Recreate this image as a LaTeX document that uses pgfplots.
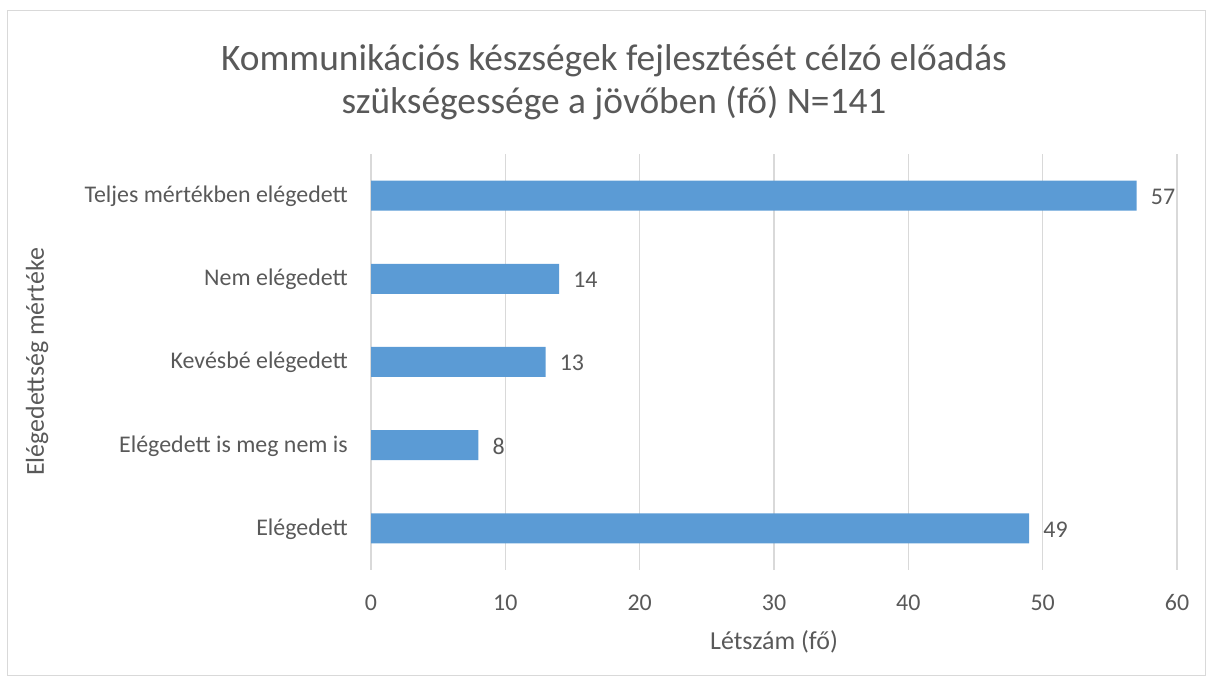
\documentclass[border=0pt]{standalone}
\usepackage{pgfplots}
\pgfplotsset{compat=1.18}
\usepackage{fontspec}
\setmainfont{Carlito}
\definecolor{barblue}{HTML}{5B9BD5}
\definecolor{txt}{HTML}{595959}
\definecolor{gridc}{HTML}{D9D9D9}
\begin{document}
\begin{tikzpicture}[x=1bp,y=1bp]
\path[use as bounding box] (0,0) rectangle (1213,682);
\draw[gridc, line width=1bp] (7,6) rectangle (1205,671);
\begin{axis}[
  at={(371bp,112bp)}, anchor=south west,
  scale only axis, width=806bp, height=416bp,
  xbar, bar width=30bp,
  xmin=0, xmax=60, ymin=-0.5, ymax=4.5,
  xtick={0,10,...,60}, ytick={0,1,2,3,4},
  yticklabels={Elégedett, Elégedett is meg nem is, Kevésbé elégedett, Nem elégedett, Teljes mértékben elégedett},
  axis line style={draw=none},
  major tick length=0pt,
  xmajorgrids, ymajorgrids=false,
  grid style={gridc, line width=1.5bp},
  /pgf/number format/assume math mode=true,
  tick label style={font=\fontsize{24}{28}\selectfont, text=txt},
  xticklabel style={anchor=base, yshift=-41bp, inner sep=0pt},
  yticklabel style={anchor=base east, xshift=-23bp, yshift=-7bp, inner sep=0pt},
  nodes near coords,
  nodes near coords style={anchor=base west, inner sep=0pt, xshift=14bp, yshift=-9bp, font=\fontsize{24}{28}\selectfont, text=txt},
  xlabel={Létszám (fő)}, ylabel={Elégedettség mértéke},
  label style={font=\fontsize{26}{30}\selectfont, text=txt},
  xlabel style={at={(axis description cs:0.5,-0.190)}, anchor=base, inner sep=0pt},
  ylabel style={at={(axis description cs:-0.4144,0.5)}, anchor=center, inner sep=0pt},
]
\addplot[fill=barblue, draw=none] coordinates {(49,0) (8,1) (13,2) (14,3) (57,4)};
\end{axis}
\node[anchor=base, align=center, font=\fontsize{37.5}{44}\selectfont, text=txt, inner sep=0pt] at (614,568) {Kommunikációs készségek fejlesztését célzó előadás\\szükségessége a jövőben (fő) N=141};
\end{tikzpicture}
\end{document}
